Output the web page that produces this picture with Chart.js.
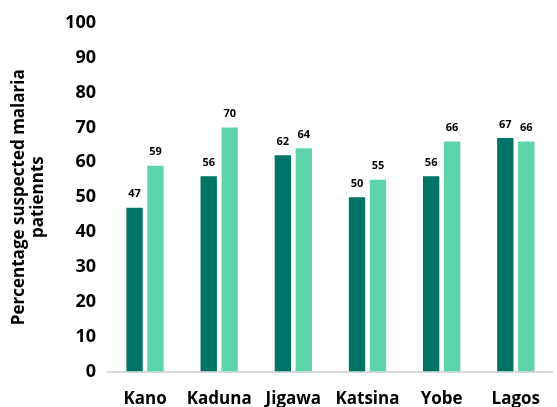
<!DOCTYPE html>
<html>
<head>
<meta charset="utf-8">
<script src="https://cdn.jsdelivr.net/npm/chart.js@4/dist/chart.umd.min.js"></script>
<style>
	html, body { margin: 0; padding: 0; background: #fff; }
	#wrap { width: 557px; height: 407px; }
</style>
</head>
<body>
<div id="wrap"><canvas id="chart"></canvas></div>
<script>
const states = ['Kano', 'Kaduna', 'Jigawa', 'Katsina', 'Yobe', 'Lagos'];
const firstValues = [47, 56, 62, 50, 56, 67];
const secondValues = [59, 70, 64, 55, 66, 66];
const yTicks = [0, 10, 20, 30, 40, 50, 60, 70, 80, 90, 100];

const FONT = "'Open Sans', 'Liberation Sans', sans-serif";

const barLabels = {
	id: 'barLabels',
	afterDatasetsDraw(chart) {
		const { ctx } = chart;
		ctx.save();
		ctx.font = `bold 11px ${FONT}`;
		ctx.fillStyle = '#000';
		ctx.textAlign = 'center';
		ctx.textBaseline = 'bottom';
		chart.data.datasets.forEach((ds, i) => {
			chart.getDatasetMeta(i).data.forEach((bar, j) => {
				ctx.fillText(ds.data[j], bar.x, bar.y - 8);
			});
		});
		ctx.restore();
	}
};

new Chart(document.getElementById('chart').getContext('2d'), {
	type: 'bar',
	data: {
		labels: states,
		datasets: [{
			label: 'Series 1',
			data: firstValues,
			backgroundColor: '#007466',
			categoryPercentage: 0.565,
			barPercentage: 0.78
		}, {
			label: 'Series 2',
			data: secondValues,
			backgroundColor: '#5ed4aa',
			categoryPercentage: 0.565,
			barPercentage: 0.78
		}]
	},
	options: {
		responsive: true,
		maintainAspectRatio: false,
		animation: false,
		layout: {
			padding: { top: 4, right: 0, bottom: -19, left: 9 }
		},
		scales: {
			x: {
				grid: { display: false, drawTicks: false },
				border: { display: true, color: '#d9d9d9', width: 2 },
				ticks: {
					color: '#000',
					font: { family: FONT, size: 17, weight: 'bold' },
					padding: 17
				}
			},
			y: {
				min: 0,
				max: 100,
				afterBuildTicks: axis => { axis.ticks = yTicks.map(v => ({ value: v })); },
				grid: { display: false, drawTicks: false },
				border: { display: false },
				ticks: {
					color: '#000',
					font: { family: FONT, size: 18, weight: 'bold' },
					padding: 12
				},
				title: {
					display: true,
					text: ['Percentage suspected malaria', 'patiennts'],
					color: '#000',
					font: { family: FONT, size: 17, weight: 'bold', lineHeight: 1.15 },
					padding: { top: 0, bottom: 5 }
				}
			}
		},
		plugins: {
			legend: { display: false },
			tooltip: { enabled: false }
		}
	},
	plugins: [barLabels]
});
</script>
</body>
</html>
